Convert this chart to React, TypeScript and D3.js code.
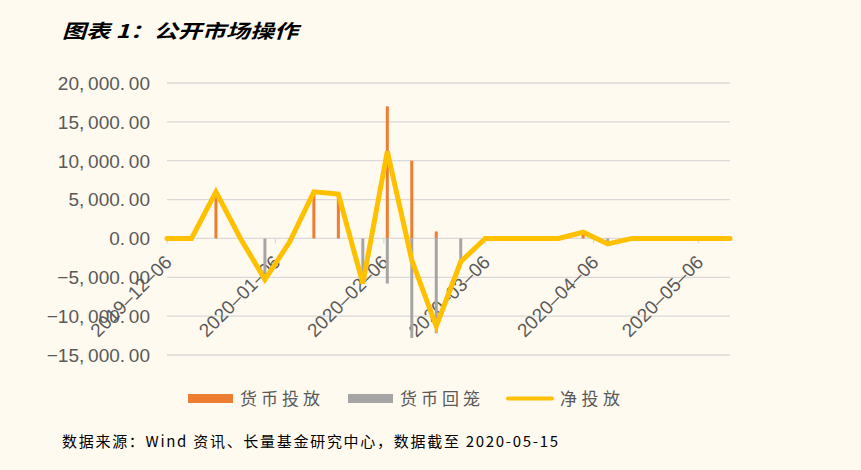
import React, { useEffect, useRef } from "react";
import * as d3 from "d3";

// weekly open market operations, 100 million yuan
const weekDates = [
  "2019-12-06", "2019-12-13", "2019-12-20", "2019-12-27",
  "2020-01-03", "2020-01-10", "2020-01-17", "2020-01-24", "2020-01-31",
  "2020-02-07", "2020-02-14", "2020-02-21", "2020-02-28",
  "2020-03-06", "2020-03-13", "2020-03-20", "2020-03-27",
  "2020-04-03", "2020-04-10", "2020-04-17", "2020-04-24",
  "2020-05-01", "2020-05-08", "2020-05-15"
];
const injection = [0, 0, 6000, 0, 0, 0, 6000, 5700, 0, 17000, 10000, 900, 0, 0, 0, 0, 0, 800, 0, 0, 0, 0, 0, 0];
const withdrawal = [0, 0, 0, 0, -5300, -500, 0, 0, -5800, -5800, -12800, -12200, -3000, 0, 0, 0, 0, 0, -700, 0, 0, 0, 0, 0];
const netInjection = [0, 0, 6000, 0, -5300, -500, 6000, 5700, -5800, 11200, -2800, -11300, -3000, 0, 0, 0, 0, 800, -700, 0, 0, 0, 0, 0];

const xTickDates = ["2019-12-06", "2020-01-06", "2020-02-06", "2020-03-06", "2020-04-06", "2020-05-06"];
const yTicks = [-15000, -10000, -5000, 0, 5000, 10000, 15000, 20000];
const legendLabels = ["货币投放", "货币回笼", "净投放"];

const title = "图表 1：公开市场操作";
const source = "数据来源：Wind 资讯、长量基金研究中心，数据截至 2020-05-15";

const ORANGE = "#ED7D31";
const GRAY = "#A5A5A5";
const YELLOW = "#FFC000";
const SANS = "'Liberation Sans', Arial, sans-serif";
const CJK = "'Noto Sans CJK SC', sans-serif";

export default function App() {
  const ref = useRef<SVGSVGElement>(null);

  useEffect(() => {
    const svg = d3.select(ref.current);
    svg.selectAll("*").remove();

    const parse = d3.utcParse("%Y-%m-%d");
    const rows = weekDates.map((d, i) => ({
      date: parse(d) as Date,
      inj: injection[i],
      wd: withdrawal[i],
      net: netInjection[i]
    }));

    const x = d3
      .scaleUtc()
      .domain([rows[0].date, rows[rows.length - 1].date])
      .range([167, 730]);
    const y = d3.scaleLinear().domain([-15000, 20000]).range([355, 83]);
    const y0 = y(0);

    // title
    svg.append("text")
      .attr("x", 62)
      .attr("y", 38)
      .attr("textLength", 236)
      .attr("lengthAdjust", "spacingAndGlyphs")
      .style("font-family", CJK)
      .style("font-size", "19px")
      .style("font-weight", "bold")
      .style("font-style", "italic")
      .style("fill", "#000")
      .text(title);

    // gridlines
    svg.append("g")
      .selectAll("line")
      .data(yTicks)
      .enter()
      .append("line")
      .attr("x1", 167)
      .attr("x2", 730)
      .attr("y1", (d) => y(d))
      .attr("y2", (d) => y(d))
      .attr("stroke", "#D9D9D9")
      .attr("stroke-width", 1.3);

    // y labels, excel style "20, 000. 00"
    const fmt = d3.format(",.2f");
    svg.append("g")
      .selectAll("text")
      .data(yTicks)
      .enter()
      .append("text")
      .attr("x", 150)
      .attr("y", (d) => y(d))
      .attr("dy", "0.36em")
      .attr("text-anchor", "end")
      .style("font-family", SANS)
      .style("font-size", "19px")
      .style("fill", "#595959")
      .text((d) => fmt(d).replace(/,/g, ",\u2009").replace(".", ".\u2009"));

    // x tick marks + labels
    const tickDates = xTickDates.map((d) => parse(d) as Date);
    svg.append("g")
      .selectAll("line")
      .data(tickDates)
      .enter()
      .append("line")
      .attr("x1", (d) => x(d))
      .attr("x2", (d) => x(d))
      .attr("y1", y0)
      .attr("y2", y0 + 5)
      .attr("stroke", "#D9D9D9")
      .attr("stroke-width", 1.3);

    svg.append("g")
      .selectAll("text")
      .data(tickDates)
      .enter()
      .append("text")
      .attr("transform", (d) => `translate(${x(d) + 6},${y0 + 25}) rotate(-45)`)
      .attr("text-anchor", "end")
      .style("font-family", SANS)
      .style("font-size", "19px")
      .style("fill", "#595959")
      .text((d) => d3.utcFormat("%Y–%m–%d")(d));

    // bars
    const barW = 3;
    svg.append("g")
      .selectAll("rect")
      .data(rows.filter((r) => r.inj !== 0))
      .enter()
      .append("rect")
      .attr("x", (d) => x(d.date) - barW / 2)
      .attr("y", (d) => y(d.inj))
      .attr("width", barW)
      .attr("height", (d) => y0 - y(d.inj))
      .attr("fill", ORANGE);

    svg.append("g")
      .selectAll("rect")
      .data(rows.filter((r) => r.wd !== 0))
      .enter()
      .append("rect")
      .attr("x", (d) => x(d.date) - barW / 2)
      .attr("y", y0)
      .attr("width", barW)
      .attr("height", (d) => y(d.wd) - y0)
      .attr("fill", GRAY);

    // net line
    const line = d3
      .line<(typeof rows)[number]>()
      .x((d) => x(d.date))
      .y((d) => y(d.net));

    svg.append("path")
      .datum(rows)
      .attr("fill", "none")
      .attr("stroke", YELLOW)
      .attr("stroke-width", 5)
      .attr("stroke-linejoin", "miter")
      .attr("stroke-linecap", "round")
      .attr("d", line);

    // legend
    const legend = svg.append("g");
    legend.append("rect")
      .attr("x", 188).attr("y", 394).attr("width", 45).attr("height", 9)
      .attr("fill", ORANGE);
    legend.append("rect")
      .attr("x", 348).attr("y", 394).attr("width", 45).attr("height", 9)
      .attr("fill", GRAY);
    legend.append("line")
      .attr("x1", 508).attr("x2", 552).attr("y1", 398.5).attr("y2", 398.5)
      .attr("stroke", YELLOW)
      .attr("stroke-width", 4)
      .attr("stroke-linecap", "round");

    const legendX = [240, 400, 560];
    const legendW = [80, 80, 60];
    legendLabels.forEach((lab, i) => {
      legend.append("text")
        .attr("x", legendX[i])
        .attr("y", 405)
        .attr("textLength", legendW[i])
        .attr("lengthAdjust", "spacing")
        .style("font-family", CJK)
        .style("font-size", "17px")
        .style("fill", "#595959")
        .text(lab);
    });

    // source note
    svg.append("text")
      .attr("x", 62)
      .attr("y", 447)
      .attr("textLength", 496)
      .attr("lengthAdjust", "spacing")
      .style("font-family", CJK)
      .style("font-size", "15px")
      .style("fill", "#000")
      .text(source);
  }, []);

  return (
    <svg
      ref={ref}
      width={861}
      height={470}
      style={{ position: "absolute", left: 0, top: 0, background: "#FFFAF0" }}
    />
  );
}
